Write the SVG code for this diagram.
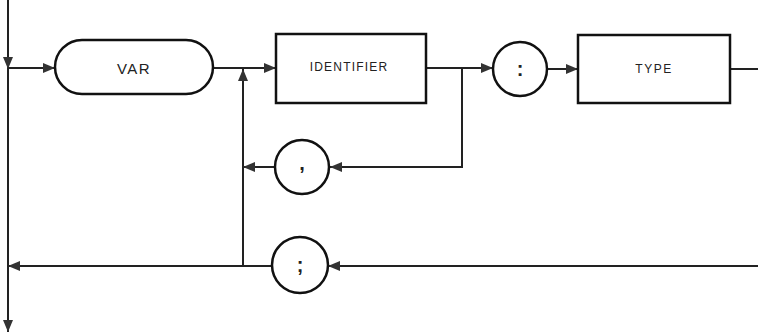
<svg xmlns="http://www.w3.org/2000/svg" width="758" height="335" viewBox="0 0 758 335">
<defs>
<marker id="arr" markerUnits="userSpaceOnUse" markerWidth="13" markerHeight="11" refX="12" refY="5" orient="auto" viewBox="0 0 13 11">
<path d="M0,0 L12,5 L0,10 z" fill="#333"/>
</marker>
</defs>
<style>
.edge{fill:none;stroke:#222;stroke-width:2}
.ar{marker-end:url(#arr)}
.shape{fill:#fff;stroke:#111;stroke-width:2.5}
.lbl{font-family:"Liberation Sans",Arial,sans-serif;fill:#222;text-anchor:middle;dominant-baseline:central}
</style>
<g id="connectors">
<path class="edge ar" d="M8,0 V69"/>
<path class="edge" d="M8,68 V266"/>
<path class="edge ar" d="M8,266 V332"/>
<path class="edge ar" d="M8,68 H55"/>
<path class="edge ar" d="M213,68 H276"/>
<path class="edge ar" d="M243,266 V69"/>
<path class="edge ar" d="M426,68 H493"/>
<path class="edge ar" d="M462,68 V167 H330"/>
<path class="edge ar" d="M275,167 H243"/>
<path class="edge ar" d="M548,69 H578"/>
<path class="edge" d="M730,69 H758"/>
<path class="edge ar" d="M758,266 H328"/>
<path class="edge ar" d="M272,266 H8"/>
</g>
<g id="node-var">
<rect class="shape" x="55" y="40" width="158" height="54" rx="27" ry="27"/>
<text class="lbl" x="134" y="68" font-size="15" letter-spacing="1.5">VAR</text>
</g>
<g id="node-identifier">
<rect class="shape" x="276" y="34" width="150" height="69"/>
<text class="lbl" x="349" y="67" font-size="12" letter-spacing="1.2">IDENTIFIER</text>
</g>
<g id="node-colon">
<circle class="shape" cx="520" cy="69" r="27"/>
<text class="lbl" x="520" y="69" font-size="20" font-weight="bold">:</text>
</g>
<g id="node-type">
<rect class="shape" x="578" y="35" width="152" height="68"/>
<text class="lbl" x="654" y="69" font-size="12" letter-spacing="1.5">TYPE</text>
</g>
<g id="node-comma">
<circle class="shape" cx="302" cy="167" r="27"/>
<text class="lbl" x="302" y="163" font-size="20" font-weight="bold">,</text>
</g>
<g id="node-semicolon">
<circle class="shape" cx="300" cy="265" r="28"/>
<text class="lbl" x="300" y="265" font-size="20" font-weight="bold">;</text>
</g>
</svg>
